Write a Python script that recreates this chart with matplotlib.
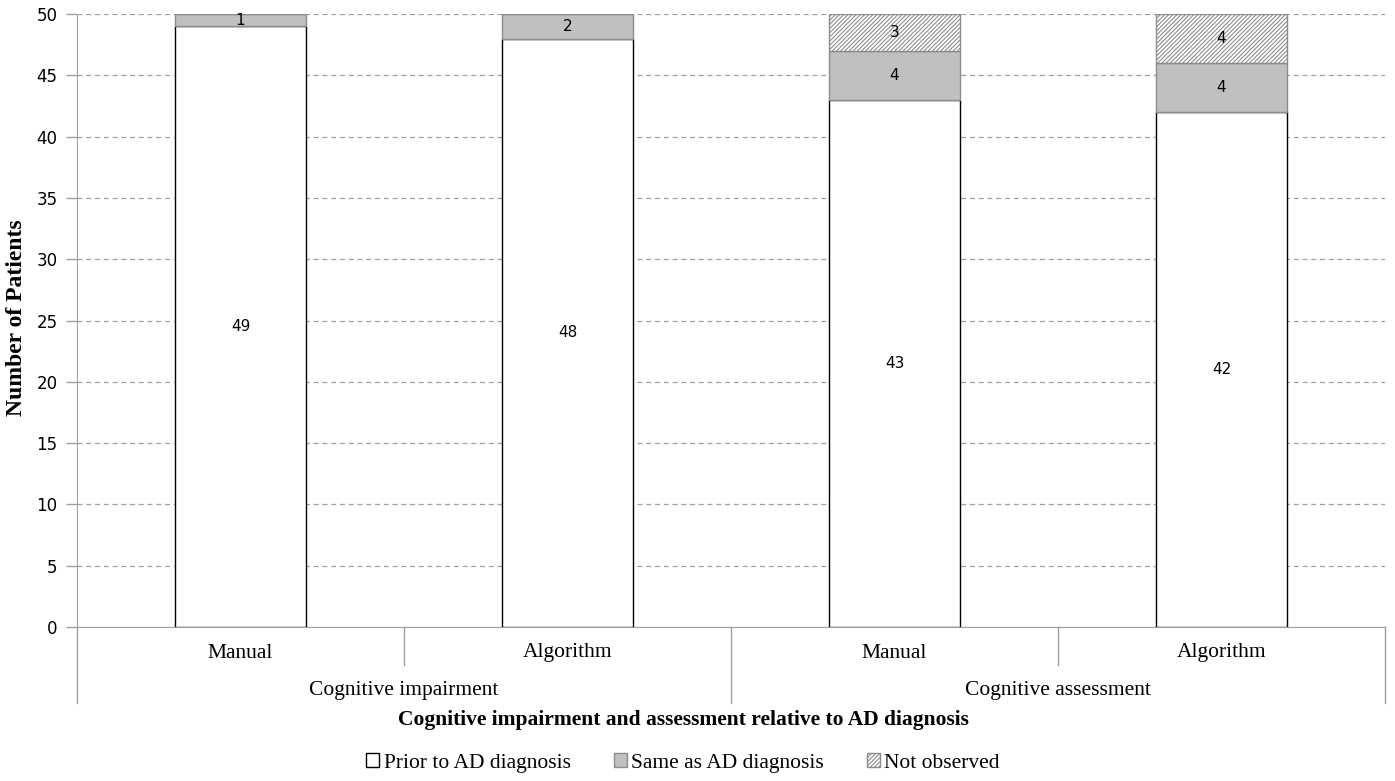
import matplotlib.pyplot as plt
import numpy as np

methods = ['Manual', 'Algorithm', 'Manual', 'Algorithm']
groups = ['Cognitive impairment', 'Cognitive assessment']
prior = [49, 48, 43, 42]
same = [1, 2, 4, 4]
not_obs = [0, 0, 3, 4]

plt.rcParams['hatch.color'] = '#b4b4b4'
plt.rcParams['hatch.linewidth'] = 0.8
serif = 'Liberation Serif'
sans = 'DejaVu Sans'

fig = plt.figure(figsize=(13.95, 7.81), dpi=100)
ax = fig.add_axes([77/1395, 154/781, 1308/1395, 613/781])

x = np.arange(len(methods))
w = 0.4
prior = np.array(prior)
same = np.array(same)
not_obs = np.array(not_obs)

ax.bar(x, prior, w, color='white', edgecolor='black', linewidth=1, zorder=3,
       label='Prior to AD diagnosis')
ax.bar(x, same, w, bottom=prior, color='#c0c0c0', edgecolor='#8c8c8c', linewidth=1,
       zorder=3, label='Same as AD diagnosis')
ax.bar(x, not_obs, w, bottom=prior + same, color='white', edgecolor='#8c8c8c',
       hatch='////////', linewidth=1, zorder=3, label='Not observed')

# value labels
for i in range(len(x)):
    ax.text(x[i], prior[i] / 2, str(prior[i]), ha='center', va='center',
            fontsize=11, family=sans, zorder=4)
    if same[i] > 0:
        ax.text(x[i], prior[i] + same[i] / 2, str(same[i]), ha='center', va='center',
                fontsize=11, family=sans, zorder=4)
    if not_obs[i] > 0:
        ax.text(x[i], prior[i] + same[i] + not_obs[i] / 2, str(not_obs[i]), ha='center',
                va='center', fontsize=11, family=sans, zorder=4)

ax.set_xlim(-0.5, 3.5)
ax.set_ylim(0, 50)
ax.set_yticks(range(0, 51, 5))
ax.yaxis.grid(True, linestyle=(0, (4, 3)), color='#a0a0a0', linewidth=0.9, zorder=0)
ax.tick_params(axis='y', colors='#a0a0a0', length=8, width=1, labelcolor='black',
               labelsize=12, pad=6)
for lab in ax.get_yticklabels():
    lab.set_family(sans)
ax.set_xticks([])
for s in ['top', 'right']:
    ax.spines[s].set_visible(False)
ax.spines['left'].set_color('#a0a0a0')
ax.spines['bottom'].set_color('#a0a0a0')
fig.text(17/1395, 1 - 318/781, 'Number of Patients', rotation=90, ha='center', va='center',
         fontsize=17, fontweight='bold', family=serif)

# two level category axis
tr = ax.get_xaxis_transform()
for b in [-0.5, 1.5, 3.5]:
    ax.plot([b, b], [0, -76/613], transform=tr, color='#a0a0a0', lw=1, clip_on=False)
for b in [0.5, 2.5]:
    ax.plot([b, b], [0, -38/613], transform=tr, color='#a0a0a0', lw=1, clip_on=False)
for i, m in enumerate(methods):
    ax.text(x[i], -26/613, m, transform=tr, ha='center', va='center', fontsize=15.5,
            family=serif)
for j, g in enumerate(groups):
    ax.text(2 * j + 0.5, -64/613, g, transform=tr, ha='center', va='center',
            fontsize=15.5, family=serif)
fig.text(683/1395, 1 - 720/781, 'Cognitive impairment and assessment relative to AD diagnosis',
         ha='center', va='center', fontsize=15.5, fontweight='bold', family=serif)

leg = fig.legend(loc='center', bbox_to_anchor=(683/1395, 1 - 763/781), ncol=3, frameon=False,
                 prop={'family': serif, 'size': 15.5}, handlelength=0.6, handleheight=0.6,
                 handletextpad=0.2, columnspacing=2.0)

fig.savefig('out.png', dpi=100)
